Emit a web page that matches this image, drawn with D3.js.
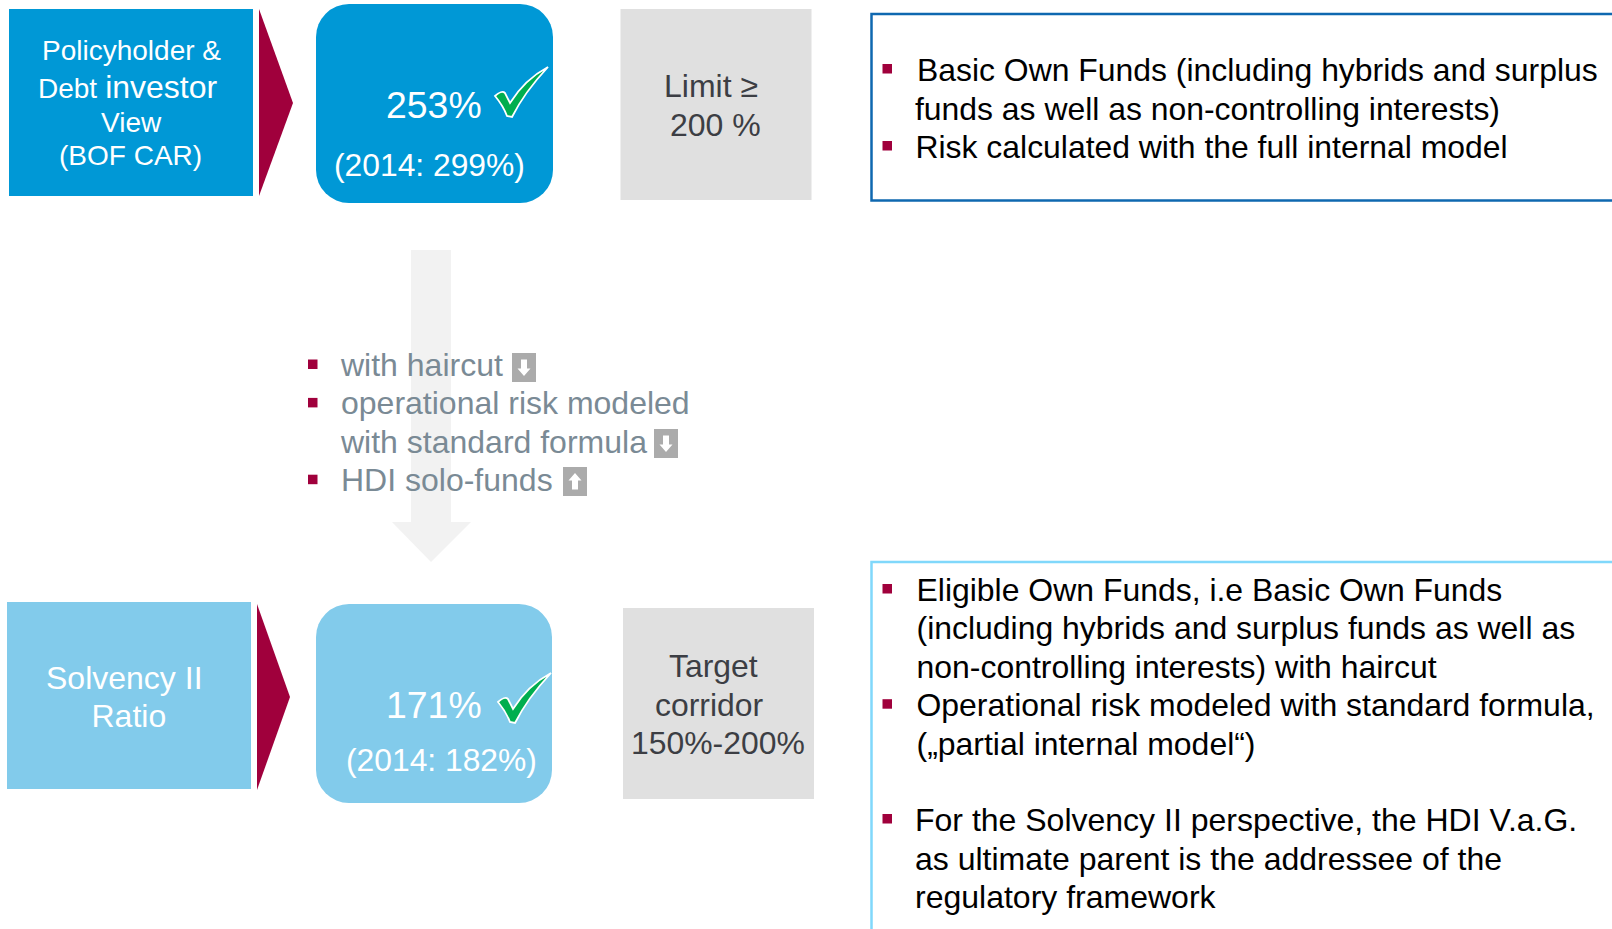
<!DOCTYPE html>
<html>
<head>
<meta charset="UTF-8">
<title>Solvency ratios</title>
<style>
body { margin: 0; background: #fff; }
svg { display: block; }
text { font-family: "Liberation Sans", Arial, sans-serif; }
</style>
</head>
<body>
<svg width="1612" height="929"></svg>
<script src="https://d3js.org/d3.v7.min.js"></script>
<script>

// Chart content.
var viewTop = ["Policyholder &", "Debt investor", "View", "(BOF CAR)"];
var viewBottom = ["Solvency II", "Ratio"];
var ratios = ["253%", "171%"];
var priorRatios = ["(2014: 299%)", "(2014: 182%)"];
var limitTop = ["Limit \u2265", "200 %"];
var limitBottom = ["Target", "corridor", "150%-200%"];
var changeLines = ["with haircut", "operational risk modeled", "with standard formula", "HDI solo-funds"];
var changeBullets = [true, true, false, true];
var changeIcons = ["down", null, "down", "up"];
var notesTop = ["Basic Own Funds (including hybrids and surplus", "funds as well as non-controlling interests)", "Risk calculated with the full internal model"];
var notesTopBullets = [true, false, true];
var notesBottom = ["Eligible Own Funds, i.e Basic Own Funds", "(including hybrids and surplus funds as well as", "non-controlling interests) with haircut", "Operational risk modeled with standard formula,", "(\u201epartial internal model\u201c)"];
var notesBottomBullets = [true, false, false, true, false];
var notesLast = ["For the Solvency II perspective, the HDI V.a.G.", "as ultimate parent is the addressee of the", "regulatory framework"];
var notesLastBullets = [true, false, false];

// Colors.
var blue = "#0098d6", lightBlue = "#82cbeb", crimson = "#a0003c", grey = "#e0e0e0";
var slate = "#7a8a95", darkText = "#3c3e44";

var svg = d3.select("svg");
var line = d3.line();

function box(x0, y0, x1, y1, fill, r) {
    svg.append("rect")
        .attr("x", x0).attr("y", y0)
        .attr("width", x1 - x0).attr("height", y1 - y0)
        .attr("rx", r || 0).attr("ry", r || 0)
        .attr("fill", fill);
}

function poly(points, fill) {
    svg.append("path").attr("d", line(points) + "Z").attr("fill", fill);
}

// Lines of text, one left edge per line, baselines evenly spaced.
function textLines(lines, lefts, y0, step, size, fill) {
    var y = d3.scaleLinear().domain([0, 1]).range([y0, y0 + step]);
    return svg.append("g").selectAll("text")
        .data(lines)
        .enter().append("text")
        .attr("x", function(d, i) { return Array.isArray(lefts) ? lefts[i] : lefts; })
        .attr("y", function(d, i) { return y(i); })
        .attr("font-size", size)
        .attr("fill", fill)
        .text(function(d) { return d; });
}

// Square bullets sitting on the text lines that start a point.
function bullets(flags, x, y0, step) {
    var y = d3.scaleLinear().domain([0, 1]).range([y0, y0 + step]);
    svg.append("g").selectAll("rect")
        .data(flags.map(function(d, i) { return d ? i : -1; }).filter(function(d) { return d >= 0; }))
        .enter().append("rect")
        .attr("x", x).attr("y", function(d) { return y(d); })
        .attr("width", 9.5).attr("height", 9.5)
        .attr("fill", crimson);
}

function check(dx, dy) {
    svg.append("path")
        .attr("transform", "translate(" + dx + "," + dy + ")")
        .attr("d", "M0,29 C4,25 8,24 10,26 L15,36 C25,20 38,8 53,0 C39,15 26,32 17,50 L12,49 C9,41 5,35 0,29Z")
        .attr("fill", "#00ae4f")
        .attr("stroke", "#fff")
        .attr("stroke-width", 1.8);
}

function arrowIcon(x, y, dir) {
    box(x, y, x + 24, y + 29, "#ababab");
    var g = svg.append("g")
        .attr("transform", "translate(" + (x + 12) + "," + (y + 14.5) + ")" + (dir == "up" ? " scale(1,-1)" : ""));
    g.append("path")
        .attr("d", line([[-3, -8], [3, -8], [3, 1], [6.5, 1], [0, 8.5], [-6.5, 1], [-3, 1]]) + "Z")
        .attr("fill", "#fff");
}

// Big faint arrow goes under the list.
poly([[411, 250], [451, 250], [451, 522], [471, 522], [431, 562], [392, 522], [411, 522]], "#f2f2f2");

// Top row.
box(9, 9, 253, 196, blue);
poly([[259, 9], [293, 103], [259, 196]], crimson);
box(316, 4, 553, 203, blue, 33);
box(620.5, 9, 811.5, 200, grey);
var viewText = textLines(viewTop, [42, 38, 101, 59], 60, 35, 28, "#fff");
viewText.filter(function(d) { return d == viewTop[2]; }).attr("y", 132);
// "investor" is set larger than the rest of its line in the source slide
viewText.filter(function(d) { return d == viewTop[1]; })
    .text(null)
    .attr("y", 98)
    .selectAll("tspan")
    .data(viewTop[1].split(" "))
    .enter().append("tspan")
    .attr("dx", function(d, i) { return i ? 8 : 0; })
    .attr("font-size", function(d, i) { return i ? 32 : 28; })
    .text(function(d) { return d; });
textLines([ratios[0]], 386, 117.5, 0, 37.4, "#fff");
textLines([priorRatios[0]], 334, 176, 0, 31.8, "#fff");
textLines(limitTop, [664, 670], 97, 39, 32, darkText);
check(495, 67);

// Bottom row.
box(7, 602, 251, 789, lightBlue);
poly([[257, 604], [290, 697], [257, 790]], crimson);
box(316, 604, 552, 803, lightBlue, 33);
box(623, 608, 814, 799, grey);
textLines(viewBottom, [46, 91.5], 689, 38, 32, "#fff");
textLines([ratios[1]], 386, 717.5, 0, 37.4, "#fff");
textLines([priorRatios[1]], 346, 771, 0, 31.8, "#fff");
textLines(limitBottom, [669, 655, 631], 677, 38.5, 31.9, darkText);
check(498, 673);

// Middle list.
textLines(changeLines, 341, 376, 38.4, 32, slate);
bullets(changeBullets, 308, 359.5, 38.4);
var iconX = d3.scaleOrdinal().domain(changeLines).range([512, 0, 654, 563]);
var iconY = d3.scaleLinear().domain([0, 1]).range([353, 391]);
changeIcons.forEach(function(dir, i) {
    if (dir) arrowIcon(iconX(changeLines[i]), iconY(i), dir);
});

// Note frames, open towards the page edge.
svg.append("path")
    .attr("d", line([[1612, 14], [871.5, 14], [871.5, 200.5], [1612, 200.5]]))
    .attr("fill", "none").attr("stroke", "#0f68b0").attr("stroke-width", 2.5);
svg.append("path")
    .attr("d", line([[1612, 562], [871.5, 562], [871.5, 929]]))
    .attr("fill", "none").attr("stroke", "#80d8fb").attr("stroke-width", 2.5);

// Notes.
textLines(notesTop, [917, 915, 915.5], 81, 38.5, 31.9, "#000");
bullets(notesTopBullets, 882.5, 64, 38.5);
textLines(notesBottom, 916.5, 601, 38.4, 31.95, "#000");
bullets(notesBottomBullets, 882.5, 584, 38.4);
textLines(notesLast, 915, 831, 38.6, 32, "#000");
bullets(notesLastBullets, 882.5, 814, 38.4);

</script>
</body>
</html>
